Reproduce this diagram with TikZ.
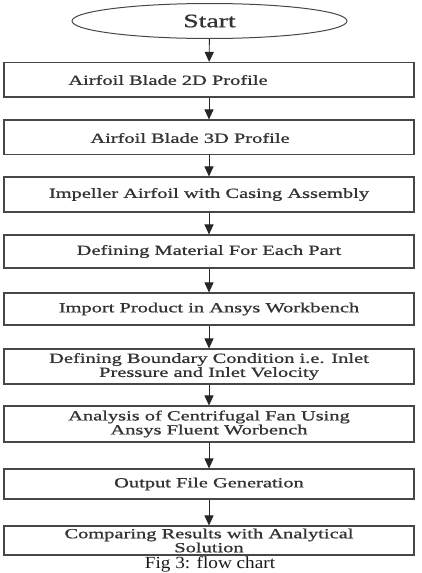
\documentclass[tikz,border=0pt]{standalone}
\usepackage{fontspec}
\setmainfont{Liberation Serif}
\newfontfamily\boxfont[FakeStretch=1.46,FakeBold=0.9]{Liberation Serif}
\newfontfamily\capfont[FakeStretch=1.13]{Liberation Serif}
\usetikzlibrary{arrows.meta,shapes.geometric}
\begin{document}
\begin{tikzpicture}[x=1pt,y=-1pt,
  boxstyle/.style={draw=black!72, line width=1.1pt, minimum width=410pt, inner sep=0pt,
    font=\boxfont\fontsize{14}{14}\selectfont, text=black!80, align=center},
  lbl/.style={inner sep=0pt, font=\boxfont\fontsize{14}{14}\selectfont, text=black!80},
  conn/.style={draw=black!85, line width=0.9pt, -{Triangle[width=9pt,length=10pt]}}]
\useasboundingbox (0,0) rectangle (421,573);
\fill[white] (0,0) rectangle (421,573);
\node[draw=black!72, line width=1pt, ellipse, minimum width=275pt, minimum height=35pt,
  inner sep=0pt, font=\boxfont\fontsize{19}{19}\selectfont, text=black!80] (e) at (209.5,21) {Start};
\node[boxstyle, minimum height=34.5pt] (b1) at (209,79.75) {};
\node[lbl] (t1) at (168,80) {Airfoil Blade 2D Profile};
\node[boxstyle, minimum height=34.5pt] (b2) at (209,137.25) {};
\node[lbl] (t2) at (190,138) {Airfoil Blade 3D Profile};
\node[boxstyle, minimum height=35pt] (b3) at (209,194.5) {Impeller Airfoil with Casing Assembly};
\node[boxstyle, minimum height=33pt] (b4) at (209,251.5) {Defining Material For Each Part};
\node[boxstyle, minimum height=32pt] (b5) at (209,309) {Import Product in Ansys Workbench};
\node[boxstyle, minimum height=35pt] (b6) at (209,366.5) {Defining Boundary Condition i.e. Inlet\\Pressure and Inlet Velocity};
\node[boxstyle, minimum height=36pt] (b7) at (209,424) {Analysis of Centrifugal Fan Using\\Ansys Fluent Worbench};
\node[boxstyle, minimum height=30pt] (b8) at (209,484) {Output File Generation};
\node[boxstyle, minimum height=29pt] (b9) at (209,540.5) {Comparing Results with Analytical\\Solution};
\node[anchor=base, inner sep=0pt, font=\capfont\fontsize{17}{17}\selectfont, text=black!90] (cap) at (210,568.5) {Fig 3: flow chart};
\draw[conn] (e) -- (b1);
\draw[conn] (b1) -- (b2);
\draw[conn] (b2) -- (b3);
\draw[conn] (b3) -- (b4);
\draw[conn] (b4) -- (b5);
\draw[conn] (b5) -- (b6);
\draw[conn] (b6) -- (b7);
\draw[conn] (b7) -- (b8);
\draw[conn] (b8) -- (b9);
\end{tikzpicture}
\end{document}
